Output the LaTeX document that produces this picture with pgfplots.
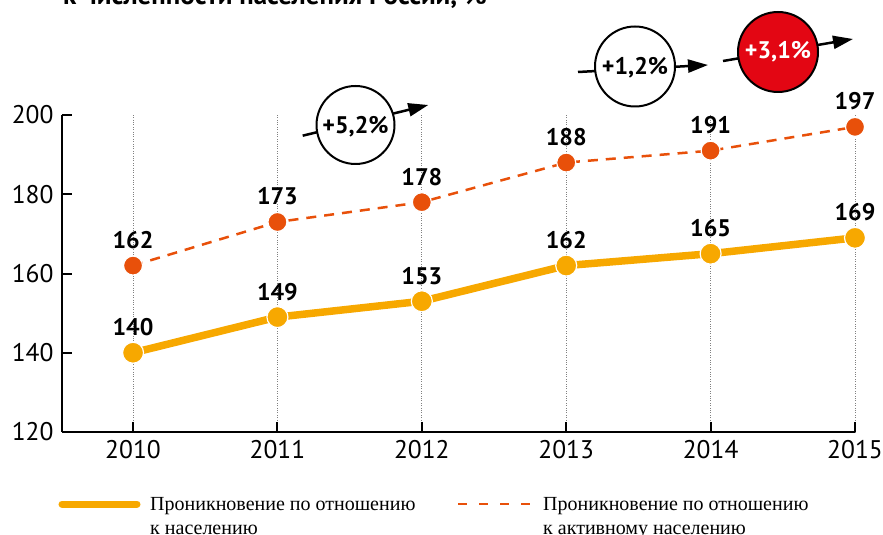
\documentclass[border=0pt]{standalone}
\usepackage{fontspec}
\setmainfont{PT Sans}
\newfontfamily\legfont{Liberation Serif}
\usepackage{pgfplots}
\pgfplotsset{compat=1.18}
\usetikzlibrary{arrows.meta}
\definecolor{popYel}{RGB}{247,168,0}
\definecolor{actOrg}{RGB}{232,80,10}
\definecolor{redBub}{RGB}{227,6,19}

\begin{document}
\begin{tikzpicture}
% title (cut off at the top in the reference)
\node[anchor=base west, inner sep=0pt, font=\fontsize{27}{30}\selectfont\bfseries] at (1pt,427pt) {к численности населения России, \%};

\begin{axis}[
    width=793pt, height=317pt, scale only axis,
    xmin=2009.508, xmax=2015,
    ymin=120, ymax=200,
    clip=false,
    axis x line=bottom, axis y line=left,
    axis line style={-, line width=2.2pt},
    xtick={2010,2011,2012,2013,2014,2015},
    xticklabels={2010,2011,2012,2013,2014,2015},
    ytick={120,140,160,180,200},
    tick align=inside,
    major tick length=10pt,
    tick style={black, line width=2pt},
    xmajorgrids,
    grid style={dotted, gray, line width=1pt},
    /pgf/number format/assume math mode=true,
    ticklabel style={font=\fontsize{25.5}{28}\selectfont},
    xticklabel style={yshift=-5pt},
    yticklabel style={xshift=-5pt},
    nodes near coords,
    every node near coord/.append style={anchor=base, yshift=17pt,
        font=\fontsize{24}{27}\selectfont\bfseries, text=black},
]
\addplot[color=actOrg, line width=2.5pt, dash pattern=on 10pt off 8pt,
    mark=*, mark size=9.5pt, mark options={solid, fill=actOrg, draw=white, line width=1.2pt}]
    coordinates {(2010,162) (2011,173) (2012,178) (2013,188) (2014,191) (2015,197)};
\addplot[color=popYel, line width=7.5pt,
    mark=*, mark size=10.5pt, mark options={fill=popYel, draw=white, line width=1.2pt}]
    coordinates {(2010,140) (2011,149) (2012,153) (2013,162) (2014,165) (2015,169)};
\end{axis}

% growth bubbles
\draw[line width=2.5pt, -{Triangle[length=20pt,width=13pt]}] (240.7pt,296.3pt) -- (366.3pt,327pt);
\draw[line width=2pt, fill=white] (293.5pt,307pt) circle (39pt);
\node[font=\fontsize{24}{27}\selectfont\bfseries] at (293.5pt,305pt) {+5,2\%};

\draw[line width=2.5pt, -{Triangle[length=20pt,width=13pt]}] (516pt,360pt) -- (646pt,367pt);
\draw[line width=2pt, fill=white] (573pt,365.5pt) circle (40pt);
\node[font=\fontsize{24}{27}\selectfont\bfseries] at (573pt,364pt) {+1,2\%};

\draw[line width=2.5pt, -{Triangle[length=20pt,width=13pt]}] (661pt,371pt) -- (791pt,393pt);
\draw[line width=2pt, fill=redBub] (716pt,380pt) circle (40pt);
\node[font=\fontsize{24}{27}\selectfont\bfseries, text=white] at (716pt,380pt) {+3,1\%};

% legend
\draw[popYel, line width=7pt, line cap=round] (0pt,-72pt) -- (75pt,-72pt);
\node[anchor=base west, inner sep=0pt] at (88pt,-78pt)
    {\legfont\fontsize{20}{24}\selectfont Проникновение по отношению};
\node[anchor=base west, inner sep=0pt] at (88pt,-102pt)
    {\legfont\fontsize{20}{24}\selectfont к населению};
\draw[actOrg, line width=2pt, dash pattern=on 9pt off 12pt] (396pt,-72pt) -- (471pt,-72pt);
\node[anchor=base west, inner sep=0pt] at (481pt,-78pt)
    {\legfont\fontsize{20}{24}\selectfont Проникновение по отношению};
\node[anchor=base west, inner sep=0pt] at (481pt,-102pt)
    {\legfont\fontsize{20}{24}\selectfont к активному населению};

\pgfresetboundingbox
\useasboundingbox (-62pt,-103pt) rectangle (821pt,432pt);
\end{tikzpicture}
\end{document}
